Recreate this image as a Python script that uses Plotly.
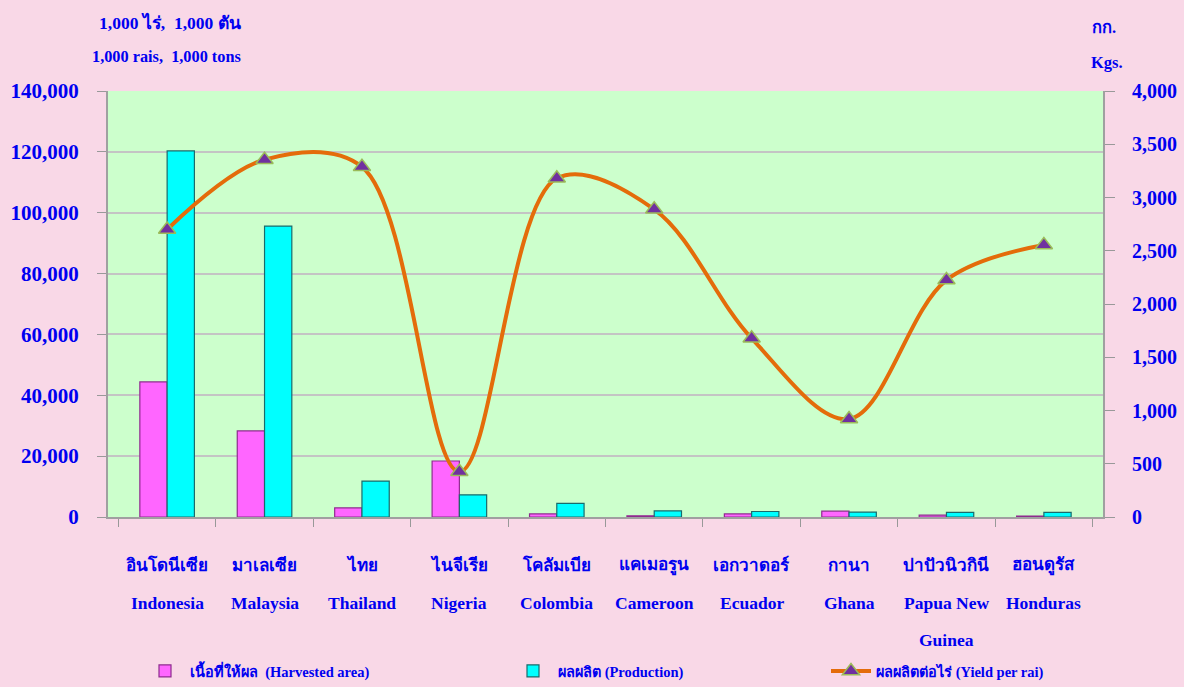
import plotly.graph_objects as go

countries = ["Indonesia", "Malaysia", "Thailand", "Nigeria", "Colombia",
             "Cameroon", "Ecuador", "Ghana", "Papua New Guinea", "Honduras"]
thai_labels = ["อินโดนีเซีย", "มาเลเซีย", "ไทย", "ไนจีเรีย", "โคลัมเบีย",
               "แคเมอรูน", "เอกวาดอร์", "กานา", "ปาปัวนิวกินี", "ฮอนดูรัส"]
eng_labels = ["Indonesia", "Malaysia", "Thailand", "Nigeria", "Colombia",
              "Cameroon", "Ecuador", "Ghana", "Papua New|Guinea", "Honduras"]
harvested_area = [44400, 28300, 3000, 18400, 1000, 400, 1000, 1900, 600, 300]
production = [120300, 95600, 11800, 7300, 4500, 2000, 1800, 1600, 1500, 1500]
yield_per_rai = [2700, 3355, 3288, 425, 3180, 2889, 1678, 920, 2225, 2554]

BLUE = "#0000F0"
FONT = "Liberation Serif, Times New Roman, serif"

W, H = 1184, 687
PLOT_L, PLOT_R, PLOT_T, PLOT_B = 108, 1103, 91, 517


def px_to_paper_y(py):
    return (PLOT_B - py) / float(PLOT_B - PLOT_T)


def px_to_paper_x(px):
    return (px - PLOT_L) / float(PLOT_R - PLOT_L)


fig = go.Figure()
fig.add_trace(go.Bar(
    x=countries, y=harvested_area, name="<b>เนื้อที่ให้ผล  (Harvested area)</b>",
    marker=dict(color="#FF66FF", line=dict(color="#8E2C8E", width=1.2)),
    yaxis="y", legend="legend"))
fig.add_trace(go.Bar(
    x=countries, y=production, name="<b>ผลผลิต (Production)</b>",
    marker=dict(color="#00FFFF", line=dict(color="#1A6B6B", width=1.2)),
    yaxis="y", legend="legend2"))
fig.add_trace(go.Scatter(
    x=countries, y=yield_per_rai, name="<b>ผลผลิตต่อไร่ (Yield per rai)</b>",
    mode="lines+markers", yaxis="y2", legend="legend3",
    line=dict(color="#E46C0A", width=4, shape="spline", smoothing=1.0),
    marker=dict(symbol="triangle-up", size=15, color="#7030A0",
                line=dict(color="#9BBB59", width=1.5))))

annotations = []
for c, th, en in zip(countries, thai_labels, eng_labels):
    annotations.append(dict(x=c, xref="x", y=px_to_paper_y(565), yref="paper",
                            yanchor="middle", xanchor="center", text=f"<b>{th}</b>",
                            showarrow=False, font=dict(size=17, color=BLUE, family=FONT)))
    for i, line in enumerate(en.split("|")):
        annotations.append(dict(x=c, xref="x", y=px_to_paper_y(603 + i * 37), yref="paper",
                                yanchor="middle", xanchor="center", text=f"<b>{line}</b>",
                                showarrow=False, font=dict(size=17.5, color=BLUE, family=FONT)))

titles = [
    (170, 22, "<b>1,000 ไร่,  1,000 ตัน</b>", 17.5),
    (166, 57, "<b>1,000 rais,  1,000 tons</b>", 16.3),
    (1104, 28, "<b>กก.</b>", 16.5),
    (1107, 63, "<b>Kgs.</b>", 16.5),
]
for px, py, t, s in titles:
    annotations.append(dict(x=px_to_paper_x(px), xref="paper", y=px_to_paper_y(py), yref="paper",
                            text=t, showarrow=False, yanchor="middle", xanchor="center",
                            font=dict(size=s, color=BLUE, family=FONT)))

left_tickfont = dict(size=21, color=BLUE, family=FONT, weight="bold")
right_tickfont = dict(size=20, color=BLUE, family=FONT, weight="bold")


def legend_at(px):
    return dict(orientation="h", xref="container", x=px / W, xanchor="left",
                yref="container", y=(H - 690) / H if False else 0.0, yanchor="bottom",
                bgcolor="rgba(0,0,0,0)", font=dict(size=14.5, color=BLUE, family=FONT),
                itemwidth=40)


fig.update_layout(
    width=W, height=H,
    margin=dict(l=PLOT_L, r=W - PLOT_R, t=PLOT_T, b=H - PLOT_B),
    paper_bgcolor="#F9D8E7", plot_bgcolor="#CCFFCC",
    barmode="group", bargap=0.44, bargroupgap=0.0,
    font=dict(family=FONT, color=BLUE),
    showlegend=True,
    legend=legend_at(140),
    legend2=legend_at(508),
    legend3=legend_at(826),
    xaxis=dict(type="category", showticklabels=False, ticks="outside", tickson="boundaries",
               ticklen=8, tickcolor="#999999", showline=True, linecolor="#A0A0A0",
               linewidth=2, showgrid=False, zeroline=False, fixedrange=True,
               automargin=False),
    yaxis=dict(range=[0, 140000], dtick=20000, tickformat=",", showgrid=True,
               gridcolor="#C4C4C4", gridwidth=2, ticks="outside", ticklen=9,
               tickcolor="#999999", showline=True, linecolor="#A0A0A0", linewidth=2,
               zeroline=False, ticklabelstandoff=14, tickfont=left_tickfont,
               automargin=False),
    yaxis2=dict(range=[0, 4000], dtick=500, tickformat=",", overlaying="y", side="right",
                showgrid=False, ticks="outside", ticklen=10, tickcolor="#999999",
                showline=True, linecolor="#A0A0A0", linewidth=2, zeroline=False,
                ticklabelstandoff=13, tickfont=right_tickfont, automargin=False),
    annotations=annotations,
)

fig.write_html("out.html", config={"displayModeBar": False},
               post_script="document.body.style.margin='0';document.body.style.overflow='hidden';")
